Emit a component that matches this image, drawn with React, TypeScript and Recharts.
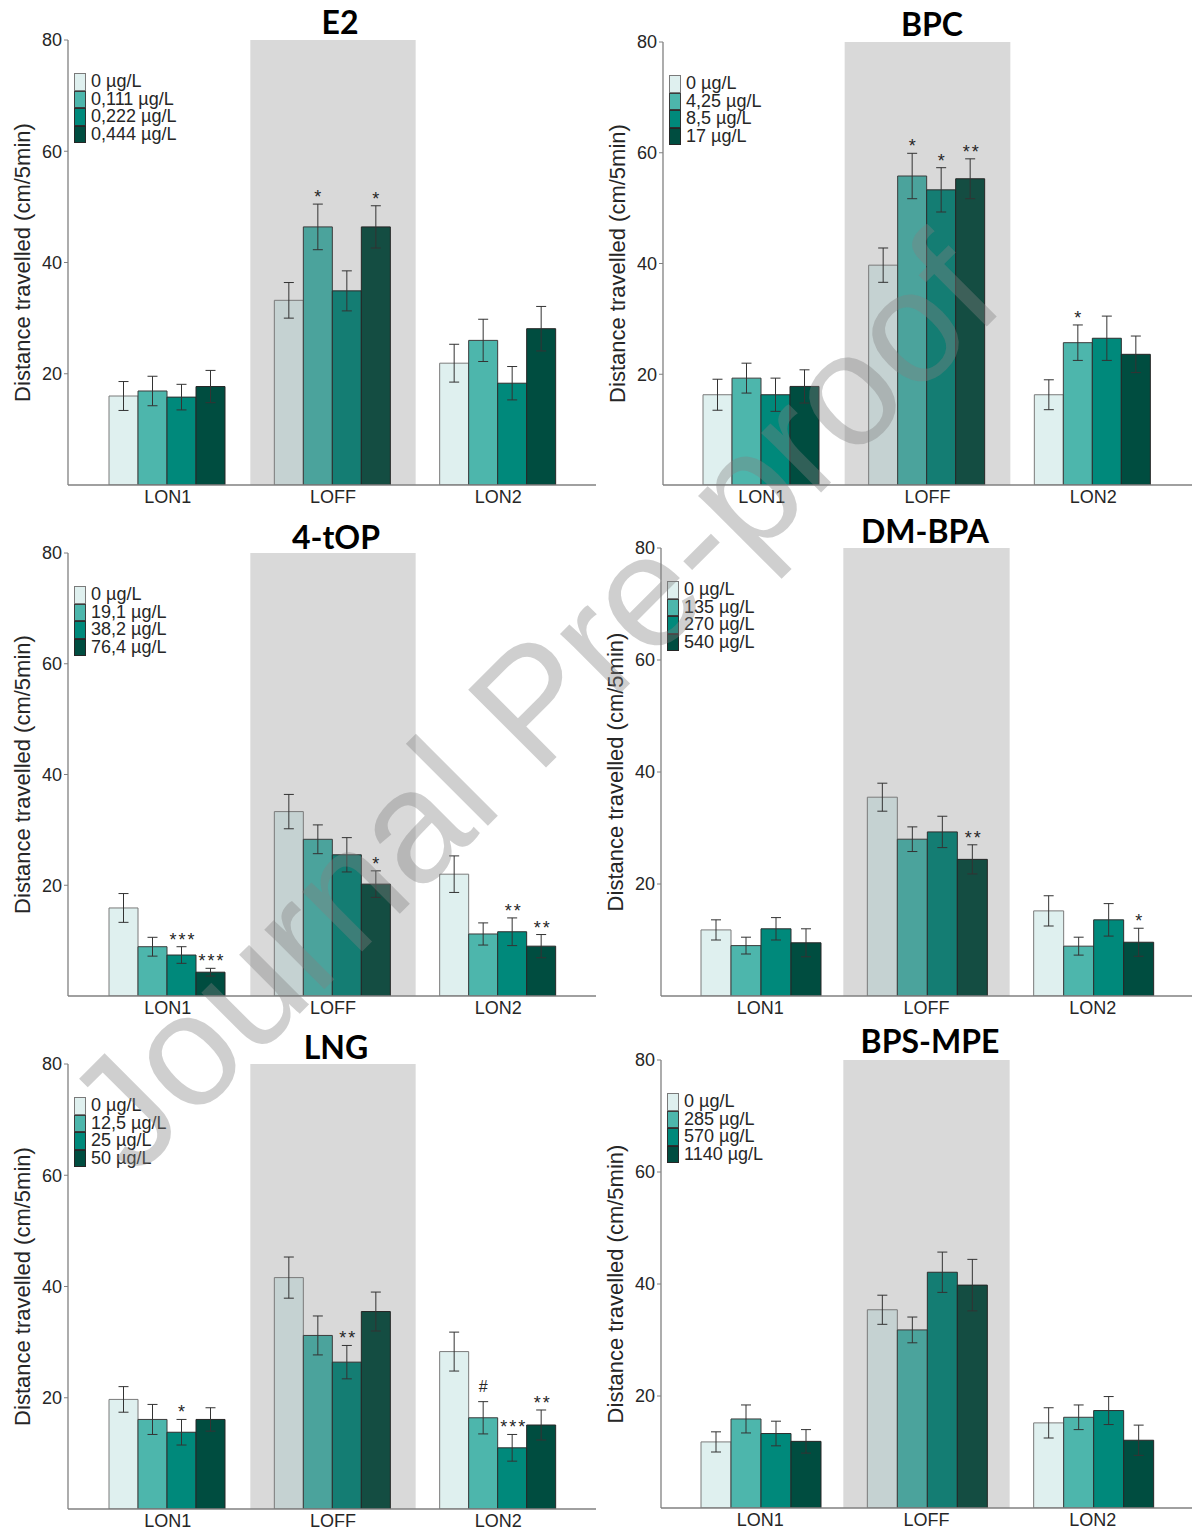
import React from "react";
import {
  Bar,
  BarChart,
  Cell,
  ErrorBar,
  Label,
  LabelList,
  Legend,
  ReferenceArea,
  XAxis,
  YAxis,
} from "recharts";

const CATEGORIES = ["LON1", "LOFF", "LON2"];
const Y_TICKS = [20, 40, 60, 80];
const Y_LABEL = "Distance travelled (cm/5min)";

// means / standard errors per category (LON1, LOFF, LON2), 4 doses each
const E2_DOSES = ["0 µg/L", "0,111 µg/L", "0,222 µg/L", "0,444 µg/L"];
const E2_MEANS = [
  [16.0, 16.9, 15.8, 17.7],
  [33.2, 46.4, 34.9, 46.4],
  [21.9, 26.0, 18.3, 28.1],
];
const E2_SE = [
  [2.6, 2.65, 2.3, 2.9],
  [3.2, 4.1, 3.6, 3.8],
  [3.4, 3.8, 3.0, 4.0],
];
const E2_SIG = [
  ["", "", "", ""],
  ["", "*", "", "*"],
  ["", "", "", ""],
];

const BPC_DOSES = ["0 µg/L", "4,25 µg/L", "8,5 µg/L", "17 µg/L"];
const BPC_MEANS = [
  [16.3, 19.3, 16.3, 17.8],
  [39.7, 55.8, 53.3, 55.3],
  [16.3, 25.7, 26.5, 23.6],
];
const BPC_SE = [
  [2.8, 2.7, 3.0, 3.0],
  [3.1, 4.1, 4.0, 3.6],
  [2.7, 3.2, 4.0, 3.3],
];
const BPC_SIG = [
  ["", "", "", ""],
  ["", "*", "*", "**"],
  ["", "*", "", ""],
];

const TOP_DOSES = ["0 µg/L", "19,1 µg/L", "38,2 µg/L", "76,4 µg/L"];
const TOP_MEANS = [
  [15.9, 8.9, 7.4, 4.3],
  [33.3, 28.3, 25.5, 20.2],
  [22.0, 11.2, 11.6, 9.0],
];
const TOP_SE = [
  [2.6, 1.7, 1.5, 0.7],
  [3.1, 2.6, 3.1, 2.4],
  [3.3, 2.0, 2.5, 2.1],
];
const TOP_SIG = [
  ["", "", "***", "***"],
  ["", "", "", "*"],
  ["", "", "**", "**"],
];

const DMBPA_DOSES = ["0 µg/L", "135 µg/L", "270 µg/L", "540 µg/L"];
const DMBPA_MEANS = [
  [11.8, 9.0, 12.0, 9.5],
  [35.5, 28.0, 29.3, 24.4],
  [15.2, 8.9, 13.6, 9.6],
];
const DMBPA_SE = [
  [1.8, 1.5, 2.0, 2.5],
  [2.5, 2.2, 2.8, 2.6],
  [2.7, 1.6, 2.9, 2.5],
];
const DMBPA_SIG = [
  ["", "", "", ""],
  ["", "", "", "**"],
  ["", "", "", "*"],
];

const LNG_DOSES = ["0 µg/L", "12,5 µg/L", "25 µg/L", "50 µg/L"];
const LNG_MEANS = [
  [19.7, 16.1, 13.8, 16.1],
  [41.6, 31.2, 26.4, 35.5],
  [28.3, 16.4, 11.0, 15.1],
];
const LNG_SE = [
  [2.3, 2.7, 2.3, 2.1],
  [3.7, 3.5, 3.0, 3.5],
  [3.5, 2.9, 2.4, 2.7],
];
const LNG_SIG = [
  ["", "", "*", ""],
  ["", "", "**", ""],
  ["", "#", "***", "**"],
];

const BPS_DOSES = ["0 µg/L", "285 µg/L", "570 µg/L", "1140 µg/L"];
const BPS_MEANS = [
  [11.8, 15.9, 13.3, 11.9],
  [35.4, 31.8, 42.1, 39.8],
  [15.2, 16.2, 17.4, 12.1],
];
const BPS_SE = [
  [1.8, 2.5, 2.2, 2.1],
  [2.6, 2.3, 3.6, 4.6],
  [2.7, 2.2, 2.5, 2.7],
];
const BPS_SIG = [
  ["", "", "", ""],
  ["", "", "", ""],
  ["", "", "", ""],
];

const FILLS = ["#dff0ef", "#4db6ac", "#00897b", "#004d40"];
// same colours seen through the grey LOFF band
const FILLS_SHADED = ["#c5d2d2", "#4ba39c", "#147d73", "#144d42"];
const STROKES = ["#7a7a7a", "#3c3c3c", "#2e2e2e", "#262626"];
const BAND = "#d9d9d9";
const AXIS = "#808080";
const TEXT = "#262626";
const FONT = "'Liberation Sans', Arial, sans-serif";

type Row = { cat: string; [k: string]: string | number };

function buildRows(means: number[][], se: number[][], sig: string[][]): Row[] {
  return CATEGORIES.map((cat, c) => {
    const row: Row = { cat };
    means[c].forEach((v, i) => {
      row[`m${i}`] = v;
      row[`e${i}`] = se[c][i];
      row[`s${i}`] = sig[c][i];
    });
    return row;
  });
}

type PanelDef = {
  title: string;
  doses: string[];
  rows: Row[];
  left: number;
  top: number;
  plotTop: number;
  plotBottom: number;
  axisX: number;
  titleX: number;
  titleY: number;
};

const PANELS: PanelDef[] = [
  { title: "E2", doses: E2_DOSES, rows: buildRows(E2_MEANS, E2_SE, E2_SIG), left: 0, top: 0, plotTop: 40, plotBottom: 485, axisX: 68, titleX: 340, titleY: 22 },
  { title: "BPC", doses: BPC_DOSES, rows: buildRows(BPC_MEANS, BPC_SE, BPC_SIG), left: 596, top: 0, plotTop: 42, plotBottom: 485, axisX: 663, titleX: 932, titleY: 24 },
  { title: "4-tOP", doses: TOP_DOSES, rows: buildRows(TOP_MEANS, TOP_SE, TOP_SIG), left: 0, top: 510, plotTop: 553, plotBottom: 996, axisX: 68, titleX: 336, titleY: 537 },
  { title: "DM-BPA", doses: DMBPA_DOSES, rows: buildRows(DMBPA_MEANS, DMBPA_SE, DMBPA_SIG), left: 596, top: 510, plotTop: 548, plotBottom: 996, axisX: 661, titleX: 925, titleY: 531 },
  { title: "LNG", doses: LNG_DOSES, rows: buildRows(LNG_MEANS, LNG_SE, LNG_SIG), left: 0, top: 1020, plotTop: 1064, plotBottom: 1509, axisX: 68, titleX: 336, titleY: 1047 },
  { title: "BPS-MPE", doses: BPS_DOSES, rows: buildRows(BPS_MEANS, BPS_SE, BPS_SIG), left: 596, top: 1020, plotTop: 1060, plotBottom: 1508, axisX: 661, titleX: 930, titleY: 1041 },
];

const sigRenderer = (rows: Row[], i: number) => (props: any) => {
  const row = rows[props.index];
  if (!row) return null;
  const txt = row[`s${i}`] as string;
  if (!txt) return null;
  const vb = props.viewBox ?? props;
  const mean = row[`m${i}`] as number;
  const err = row[`e${i}`] as number;
  const pxPerUnit = vb.height / mean;
  const errTop = vb.y - err * pxPerUnit;
  const gap = txt === "#" ? 10 : 1;
  return (
    <text
      x={vb.x + vb.width / 2 + (txt.length > 1 ? 1.5 : 0)}
      y={errTop - gap}
      textAnchor="middle"
      fontSize={txt === "#" ? 16 : 18}
      fontFamily={FONT}
      fill={TEXT}
      letterSpacing={txt.length > 1 ? 2 : 0}
    >
      {txt}
    </text>
  );
};

// legend keeps the dose order of the series (no sorting)
const legendRenderer = (doses: string[]) => () => (
  <div style={{ fontFamily: FONT, fontSize: 18, color: TEXT }}>
    {doses.map((d, i) => (
      <div key={d} style={{ display: "flex", alignItems: "center", height: 17.5, overflow: "visible" }}>
        <span
          style={{
            display: "inline-block",
            width: 10,
            height: 15.5,
            background: FILLS[i],
            border: `1px solid ${STROKES[i]}`,
            marginRight: 5,
          }}
        />
        <span
          style={{
            display: "inline-block",
            whiteSpace: "nowrap",
            height: 17.5,
            lineHeight: "17.5px",
            overflow: "visible",
          }}
        >
          {d}
        </span>
      </div>
    ))}
  </div>
);

function Panel({ p }: { p: PanelDef }) {
  const axisRel = p.axisX - p.left;
  const marginTop = p.plotTop - p.top;
  const xAxisH = 22;
  const height = p.plotBottom - p.top + xAxisH;
  const yAxisW = 40;
  const plotMid = marginTop + (p.plotBottom - p.plotTop) / 2;
  const pad = p.left === 0 ? { left: 17, right: 15 } : { left: 16, right: 16 };

  return (
    <div style={{ position: "absolute", left: p.left, top: p.top, width: 596, height }}>
      <div
        style={{
          position: "absolute",
          left: p.titleX - p.left - 100,
          top: p.titleY - p.top - 20,
          width: 200,
          height: 40,
          lineHeight: "40px",
          textAlign: "center",
          fontFamily: "Lato, 'Open Sans', sans-serif",
          fontWeight: 700,
          fontSize: 32,
          color: "#000",
          zIndex: 2,
        }}
      >
        {p.title}
      </div>
      <BarChart
        width={596}
        height={height}
        data={p.rows}
        margin={{ top: marginTop, right: 0, bottom: 0, left: axisRel - yAxisW }}
        barCategoryGap={24}
        barGap={0}
      >
        <ReferenceArea
          x1="LOFF"
          x2="LOFF"
          y1={0}
          y2={80}
          fill={BAND}
          fillOpacity={1}
          stroke="none"
          ifOverflow="visible"
        />
        <XAxis
          dataKey="cat"
          padding={pad}
          height={xAxisH}
          tickSize={0}
          tickLine={false}
          tickMargin={5}
          axisLine={{ stroke: AXIS, strokeWidth: 1.3 }}
          tick={{ fontSize: 18, fill: TEXT, fontFamily: FONT }}
        />
        <YAxis
          type="number"
          domain={[0, 80]}
          ticks={Y_TICKS}
          width={yAxisW}
          tickSize={4}
          tickMargin={2}
          axisLine={{ stroke: AXIS, strokeWidth: 1.3 }}
          tickLine={{ stroke: AXIS }}
          tick={{ fontSize: 18, fill: TEXT, fontFamily: FONT }}
          allowDataOverflow
        >
          <Label
            content={() => (
              <text
                x={axisRel - 46}
                y={plotMid}
                transform={`rotate(-90 ${axisRel - 46} ${plotMid})`}
                textAnchor="middle"
                dominantBaseline="central"
                fontSize={22}
                fontFamily={FONT}
                fill={TEXT}
              >
                {Y_LABEL}
              </text>
            )}
          />
        </YAxis>
        <Legend
          layout="vertical"
          align="center"
          verticalAlign="middle"
          content={legendRenderer(p.doses)}
          wrapperStyle={{ left: axisRel + 6, top: marginTop + 33, width: 150, height: 72 }}
        />
        {p.doses.map((d, i) => (
          <Bar
            key={d}
            dataKey={`m${i}`}
            name={d}
            fill={FILLS[i]}
            stroke={STROKES[i]}
            strokeWidth={1}
            isAnimationActive={false}
          >
            {p.rows.map((r, j) => (
              <Cell key={j} fill={r.cat === "LOFF" ? FILLS_SHADED[i] : FILLS[i]} />
            ))}
            <ErrorBar
              dataKey={`e${i}`}
              width={5}
              stroke="#333333"
              strokeWidth={1}
              isAnimationActive={false}
            />
            <LabelList dataKey={`s${i}`} content={sigRenderer(p.rows, i)} />
          </Bar>
        ))}
      </BarChart>
    </div>
  );
}

export default function App() {
  return (
    <div
      style={{
        position: "absolute",
        left: 0,
        top: 0,
        width: 1192,
        height: 1533,
        overflow: "hidden",
        background: "#fff",
      }}
    >
      {PANELS.map((p) => (
        <Panel key={p.title} p={p} />
      ))}
      <svg
        width={1192}
        height={1533}
        style={{ position: "absolute", left: 0, top: 0, pointerEvents: "none", zIndex: 5 }}
      >
        <text
          x={532}
          y={703}
          transform="rotate(-45 532 703)"
          textAnchor="middle"
          dominantBaseline="central"
          fontSize={160}
          fontFamily={FONT}
          fill="#808080"
          fillOpacity={0.38}
        >
          Journal Pre-proof
        </text>
      </svg>
    </div>
  );
}
